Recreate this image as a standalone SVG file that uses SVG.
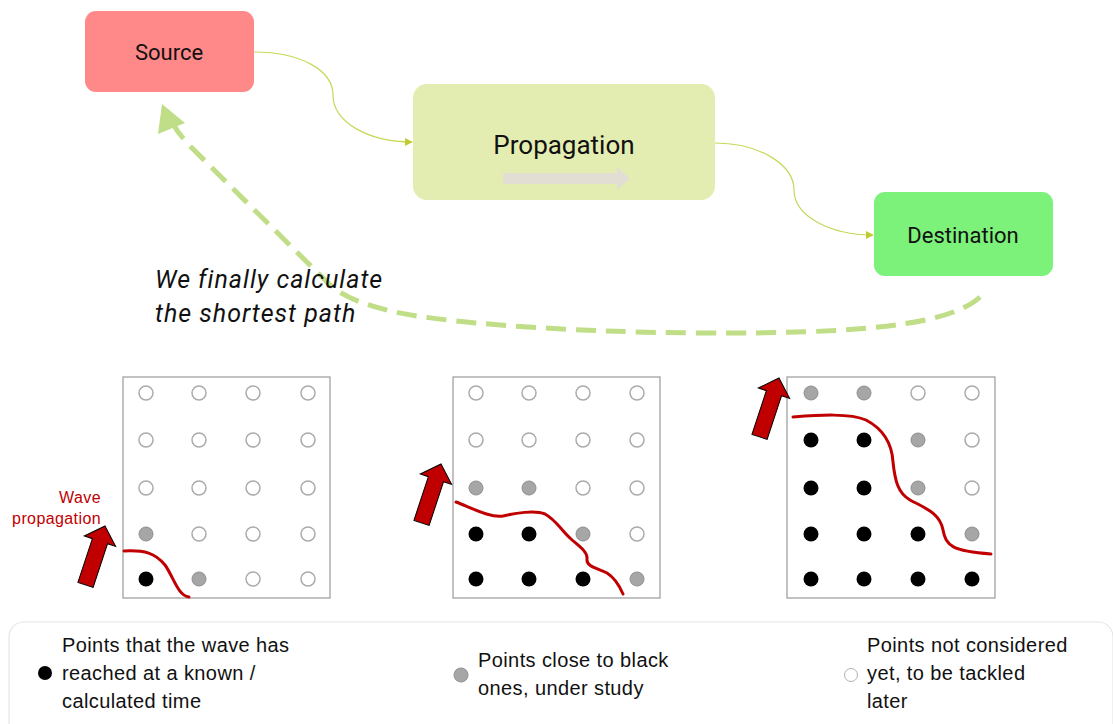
<svg xmlns="http://www.w3.org/2000/svg" width="1113" height="724" viewBox="0 0 1113 724">
  <style>
    .box-label { font-family: Roboto, "Liberation Sans", sans-serif; fill: #111; text-anchor: middle; }
    .note { font-family: Roboto, "Liberation Sans", sans-serif; font-style: italic; font-size: 25px; letter-spacing: 1px; fill: #111; }
    .legend { font-family: "Liberation Sans", Arial, sans-serif; font-size: 20px; letter-spacing: 0.4px; fill: #111; }
    .wave-label { font-family: "Liberation Sans", Arial, sans-serif; font-size: 16px; fill: #C00000; text-anchor: end; letter-spacing: 0.4px; }
    .flow { fill: none; stroke: #C9D65A; stroke-width: 1.2; }
    .frame { fill: #fff; stroke: #9a9a9a; stroke-width: 1.2; }
    .k { fill: #000; }
    .g { fill: #A6A6A6; stroke: #8E8E8E; stroke-width: 1; }
    .w { fill: #fff; stroke: #ABABAB; stroke-width: 1.5; }
    .front { fill: none; stroke: #C00000; stroke-width: 3; stroke-linecap: round; }
    .up-arrow { fill: #C00000; stroke: #000; stroke-width: 1; }
  </style>
  <defs>
    <marker id="tri" viewBox="0 0 10 10" refX="9" refY="5" markerWidth="8" markerHeight="8" markerUnits="userSpaceOnUse" orient="auto">
      <path d="M0,0 L10,5 L0,10 Z" fill="#BFCB33"/>
    </marker>
    <!-- block arrow pointing up, tip at origin -->
    <path id="blockArrow" d="M0,0 L16.5,16 L8,16 L8,62 L-8,62 L-8,16 L-16.5,16 Z"/>
  </defs>

  <!-- connectors -->
  <g id="connectors">
    <path class="flow" d="M254,52 C300,52 333,70 333,95 C333,122 368,142 412,142" marker-end="url(#tri)"/>
    <path class="flow" d="M715,143 C760,143 794,165 794,190 C794,216 830,235 873,235" marker-end="url(#tri)"/>
    <path d="M980,297 C950,325 860,334 700,333 C560,332 440,322 395,312 C365,305 345,298 330,285 L192,148 Q180,136 173,124" fill="none" stroke="#C0DE87" stroke-width="5" stroke-dasharray="20 10"/>
    <polygon points="162,104 158,134 185,123" fill="#C0DE87"/>
  </g>

  <g id="source">
    <rect x="85" y="11" width="169" height="81" rx="11" fill="#FF8888"/>
    <text class="box-label" x="169" y="60" font-size="22">Source</text>
  </g>

  <g id="propagation">
    <rect x="413" y="84" width="302" height="116" rx="14" fill="#E4EDB1"/>
    <text class="box-label" x="564" y="154" font-size="26">Propagation</text>
    <path d="M503,173 L617,173 L617,167 L630,178.5 L617,190 L617,184 L503,184 Z" fill="#E2DED4"/>
  </g>

  <g id="destination">
    <rect x="874" y="192" width="179" height="84" rx="11" fill="#7CF27A"/>
    <text class="box-label" x="963" y="243" font-size="22">Destination</text>
  </g>

  <g id="note">
    <text class="note" x="155" y="288">We finally calculate</text>
    <text class="note" x="155" y="322">the shortest path</text>
  </g>

  <!-- step 1 -->
  <g id="grid-1">
    <rect class="frame" x="123" y="377" width="207" height="221"/>
    <circle class="w" cx="146" cy="393" r="7"/><circle class="w" cx="199" cy="393" r="7"/><circle class="w" cx="253" cy="393" r="7"/><circle class="w" cx="308" cy="393" r="7"/>
    <circle class="w" cx="146" cy="440" r="7"/><circle class="w" cx="199" cy="440" r="7"/><circle class="w" cx="253" cy="440" r="7"/><circle class="w" cx="308" cy="440" r="7"/>
    <circle class="w" cx="146" cy="488" r="7"/><circle class="w" cx="199" cy="488" r="7"/><circle class="w" cx="253" cy="488" r="7"/><circle class="w" cx="308" cy="488" r="7"/>
    <circle class="g" cx="146" cy="534" r="7"/><circle class="w" cx="199" cy="534" r="7"/><circle class="w" cx="253" cy="534" r="7"/><circle class="w" cx="308" cy="534" r="7"/>
    <circle class="k" cx="146" cy="579" r="7.5"/><circle class="g" cx="199" cy="579" r="7"/><circle class="w" cx="253" cy="579" r="7"/><circle class="w" cx="308" cy="579" r="7"/>
    <path class="front" d="M124,551 C145,550 155,553 165,565 C173,576 178,596 189,597"/>
    <use href="#blockArrow" class="up-arrow" transform="translate(105,526) rotate(18.3)"/>
    <text class="wave-label" x="101" y="503">Wave</text>
    <text class="wave-label" x="101" y="524">propagation</text>
  </g>

  <!-- step 2 -->
  <g id="grid-2">
    <rect class="frame" x="453" y="377" width="207" height="221"/>
    <circle class="w" cx="476" cy="393" r="7"/><circle class="w" cx="529" cy="393" r="7"/><circle class="w" cx="583" cy="393" r="7"/><circle class="w" cx="637" cy="393" r="7"/>
    <circle class="w" cx="476" cy="440" r="7"/><circle class="w" cx="529" cy="440" r="7"/><circle class="w" cx="583" cy="440" r="7"/><circle class="w" cx="637" cy="440" r="7"/>
    <circle class="g" cx="476" cy="488" r="7"/><circle class="g" cx="529" cy="488" r="7"/><circle class="w" cx="583" cy="488" r="7"/><circle class="w" cx="637" cy="488" r="7"/>
    <circle class="k" cx="476" cy="534" r="7.5"/><circle class="k" cx="529" cy="534" r="7.5"/><circle class="g" cx="583" cy="534" r="7"/><circle class="w" cx="637" cy="534" r="7"/>
    <circle class="k" cx="476" cy="579" r="7.5"/><circle class="k" cx="529" cy="579" r="7.5"/><circle class="k" cx="583" cy="579" r="7.5"/><circle class="g" cx="637" cy="579" r="7"/>
    <path class="front" d="M456,502 C472,508 490,518 503,516 C515,513 535,510 545,514 C556,520 561,530 571,539 C579,546 588,552 587,559 C586,567 598,568 607,573 C615,578 620,587 623,594"/>
    <use href="#blockArrow" class="up-arrow" transform="translate(441,464) rotate(18.3)"/>
  </g>

  <!-- step 3 -->
  <g id="grid-3">
    <rect class="frame" x="787" y="377" width="208" height="221"/>
    <circle class="g" cx="811" cy="393" r="7"/><circle class="g" cx="864" cy="393" r="7"/><circle class="w" cx="918" cy="393" r="7"/><circle class="w" cx="972" cy="393" r="7"/>
    <circle class="k" cx="811" cy="440" r="7.5"/><circle class="k" cx="864" cy="440" r="7.5"/><circle class="g" cx="918" cy="440" r="7"/><circle class="w" cx="972" cy="440" r="7"/>
    <circle class="k" cx="811" cy="488" r="7.5"/><circle class="k" cx="864" cy="488" r="7.5"/><circle class="g" cx="918" cy="488" r="7"/><circle class="w" cx="972" cy="488" r="7"/>
    <circle class="k" cx="811" cy="534" r="7.5"/><circle class="k" cx="864" cy="534" r="7.5"/><circle class="k" cx="918" cy="534" r="7.5"/><circle class="g" cx="972" cy="534" r="7"/>
    <circle class="k" cx="811" cy="579" r="7.5"/><circle class="k" cx="864" cy="579" r="7.5"/><circle class="k" cx="918" cy="579" r="7.5"/><circle class="k" cx="972" cy="579" r="7.5"/>
    <path class="front" d="M793,417 C820,415 850,413 866,420 C885,430 892,445 893,462 C895,481 898,493 910,500 C925,508 940,513 943,530 C946,546 952,551 991,554"/>
    <use href="#blockArrow" class="up-arrow" transform="translate(779,378) rotate(18.3)"/>
  </g>

  <!-- key -->
  <g id="legend">
    <rect x="9" y="622" width="1104" height="120" rx="15" fill="#fff" stroke="#E6E6E6" stroke-width="1.2"/>
    <circle class="k" cx="45" cy="673" r="7"/>
    <text class="legend" x="62" y="652">Points that the wave has</text>
    <text class="legend" x="62" y="680">reached at a known /</text>
    <text class="legend" x="62" y="708">calculated time</text>
    <circle class="g" cx="461" cy="675" r="7"/>
    <text class="legend" x="478" y="667">Points close to black</text>
    <text class="legend" x="478" y="695">ones, under study</text>
    <circle cx="851" cy="675" r="6.5" fill="#fff" stroke="#B0B0B0" stroke-width="1"/>
    <text class="legend" x="867" y="652">Points not considered</text>
    <text class="legend" x="867" y="680">yet, to be tackled</text>
    <text class="legend" x="867" y="708">later</text>
  </g>
</svg>
